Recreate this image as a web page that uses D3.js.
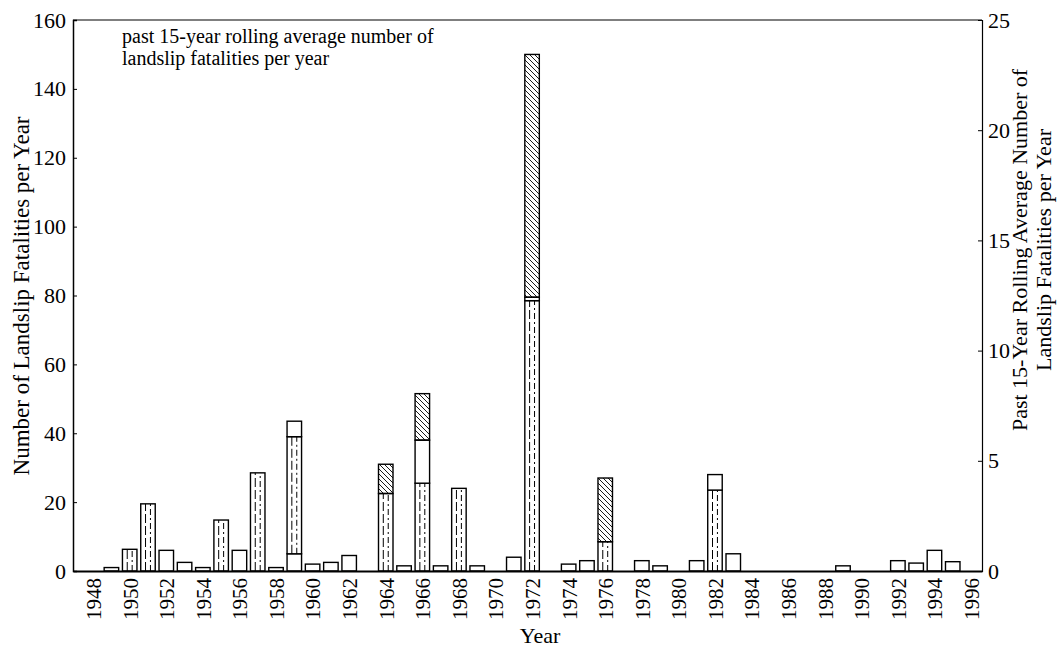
<!DOCTYPE html>
<html>
<head>
<meta charset="utf-8">
<script src="https://cdn.jsdelivr.net/npm/d3@7"></script>
<style>
  body { margin: 0; background: #fff; }
  svg, svg text { font-family: "Liberation Serif", "Times New Roman", serif; }
  .axis path, .axis line { stroke: #000; }
</style>
</head>
<body>
<svg id="chart" width="1063" height="649"></svg>
<script>
// years with a bar, and each stacked piece (fatalities), bottom to top
var years    = [1949, 1950, 1951, 1952, 1953, 1954, 1955, 1956, 1957, 1958, 1959, 1960, 1961, 1962,
                1964, 1965, 1966, 1967, 1968, 1969, 1971, 1972, 1974, 1975, 1976, 1978, 1979, 1981,
                1982, 1983, 1989, 1992, 1993, 1994, 1995];
var lowPlain = [1, 0, 0, 6, 2.5, 1, 0, 6, 0, 1, 5, 2, 2.5, 4.5,
                0, 1.5, 0, 1.5, 0, 1.5, 4, 0, 2, 3, 0, 3, 1.5, 3,
                0, 5, 1.5, 3, 2.3, 6, 2.7];
var dashed   = [0, 6.3, 19.5, 0, 0, 0, 14.8, 0, 28.5, 0, 34, 0, 0, 0,
                22.5, 0, 25.5, 0, 24, 0, 0, 78.5, 0, 0, 8.5, 0, 0, 0,
                23.5, 0, 0, 0, 0, 0, 0];
var midPlain = [0, 0, 0, 0, 0, 0, 0, 0, 0, 0, 4.5, 0, 0, 0,
                0, 0, 12.5, 0, 0, 0, 0, 1, 0, 0, 0, 0, 0, 0,
                4.5, 0, 0, 0, 0, 0, 0];
var hatched  = [0, 0, 0, 0, 0, 0, 0, 0, 0, 0, 0, 0, 0, 0,
                8.5, 0, 13.5, 0, 0, 0, 0, 70.5, 0, 0, 18.5, 0, 0, 0,
                0, 0, 0, 0, 0, 0, 0];
var seriesKeys = ["lowPlain", "dashed", "midPlain", "hatched"];

var leftTicks  = [0, 20, 40, 60, 80, 100, 120, 140, 160];
var rightTicks = [0, 5, 10, 15, 20, 25];
var yearTicks  = d3.range(1948, 1997, 2);

var table = years.map(function (yr, i) {
    return {year: yr, lowPlain: lowPlain[i], dashed: dashed[i], midPlain: midPlain[i], hatched: hatched[i]};
});

var svg = d3.select("#chart");
var plotL = 73, plotR = 982, plotT = 20, plotB = 571;
var serif = "'Liberation Serif', 'Times New Roman', serif";

var x = d3.scaleLinear().domain([1946.9, 1996.6]).range([plotL, plotR]);
var y = d3.scaleLinear().domain([0, 160]).range([plotB, plotT]);
var yR = d3.scaleLinear().domain([0, 25]).range([plotB, plotT]);
var barW = 14.5;

// hatch pattern
var defs = svg.append("defs");
defs.append("pattern")
    .attr("id", "hatch")
    .attr("patternUnits", "userSpaceOnUse")
    .attr("width", 5).attr("height", 5)
    .append("path")
    .attr("d", "M0,0 L5,5 M-1,4 L1,6 M4,-1 L6,1")
    .attr("stroke", "#000")
    .attr("stroke-width", 0.9);

var stack = d3.stack().keys(seriesKeys)(table);

var layers = svg.append("g").selectAll("g")
    .data(stack)
    .enter().append("g");

layers.each(function (layer) {
    var g = d3.select(this);
    var key = layer.key;
    var segs = layer.filter(function (d) { return d[1] - d[0] > 0; });

    g.selectAll("rect")
        .data(segs)
        .enter().append("rect")
        .attr("x", function (d) { return x(d.data.year) - barW / 2; })
        .attr("y", function (d) { return y(d[1]); })
        .attr("width", barW)
        .attr("height", function (d) { return y(d[0]) - y(d[1]); })
        .attr("fill", key == "hatched" ? "url(#hatch)" : "#fff")
        .attr("stroke", "#000")
        .attr("stroke-width", 1.4);

    if (key == "dashed") {
        [0.33, 0.67].forEach(function (f, k) {
            g.selectAll("line.v" + k)
                .data(segs)
                .enter().append("line")
                .attr("class", "v" + k)
                .attr("x1", function (d) { return x(d.data.year) - barW / 2 + barW * f; })
                .attr("x2", function (d) { return x(d.data.year) - barW / 2 + barW * f; })
                .attr("y1", function (d) { return y(d[0]); })
                .attr("y2", function (d) { return y(d[1]); })
                .attr("stroke", "#000")
                .attr("stroke-width", 1)
                .attr("stroke-dasharray", k == 0 ? "9,3" : "6,3,2,3");
        });
    }
});

// frame top
svg.append("line").attr("x1", plotL).attr("x2", plotR).attr("y1", plotT).attr("y2", plotT)
    .attr("stroke", "#000").attr("stroke-width", 1.2);

// axes
var yAxis = d3.axisLeft(y).tickValues(leftTicks).tickSize(-4).tickPadding(7);
svg.append("g").attr("class", "axis").attr("transform", "translate(" + plotL + ",0)")
    .call(yAxis)
    .call(function (g) { g.select(".domain").attr("stroke-width", 1.5); })
    .selectAll("text").style("font-size", "22px").style("font-family", serif).attr("fill", "#000");

var yAxisR = d3.axisRight(yR).tickValues(rightTicks).tickSize(-4).tickPadding(6);
svg.append("g").attr("class", "axis").attr("transform", "translate(" + plotR + ",0)")
    .call(yAxisR)
    .call(function (g) { g.select(".domain").attr("stroke-width", 1.2); })
    .selectAll("text").style("font-size", "22px").style("font-family", serif).attr("fill", "#000");

var xAxis = d3.axisBottom(x).tickValues(yearTicks).tickSize(0).tickFormat(d3.format("d"));
svg.append("g").attr("class", "axis").attr("transform", "translate(0," + plotB + ")")
    .call(xAxis)
    .call(function (g) { g.select(".domain").attr("stroke-width", 2.2); })
    .selectAll("text")
    .style("font-size", "21px").style("font-family", serif).attr("fill", "#000")
    .attr("y", 0).attr("x", -7).attr("dy", "0.35em")
    .attr("transform", "rotate(-90)")
    .style("text-anchor", "end");

// titles
svg.append("text")
    .attr("transform", "translate(29,296) rotate(-90)")
    .attr("text-anchor", "middle")
    .style("font-size", "23px")
    .text("Number of Landslip Fatalities per Year");

svg.append("text")
    .attr("x", 540).attr("y", 643)
    .attr("text-anchor", "middle")
    .style("font-size", "22px")
    .text("Year");

var rt = svg.append("text")
    .attr("transform", "translate(1027,250) rotate(-90)")
    .attr("text-anchor", "middle")
    .style("font-size", "22px");
rt.append("tspan").attr("x", 0).attr("dy", 0).text("Past 15-Year Rolling Average Number of");
rt.append("tspan").attr("x", 0).attr("dy", 24).text("Landslip Fatalities per Year");

var note = svg.append("text")
    .attr("x", 122).attr("y", 43)
    .style("font-size", "20px");
note.append("tspan").attr("x", 122).text("past 15-year rolling average number of");
note.append("tspan").attr("x", 122).attr("dy", 22).text("landslip fatalities per year");
</script>
</body>
</html>
